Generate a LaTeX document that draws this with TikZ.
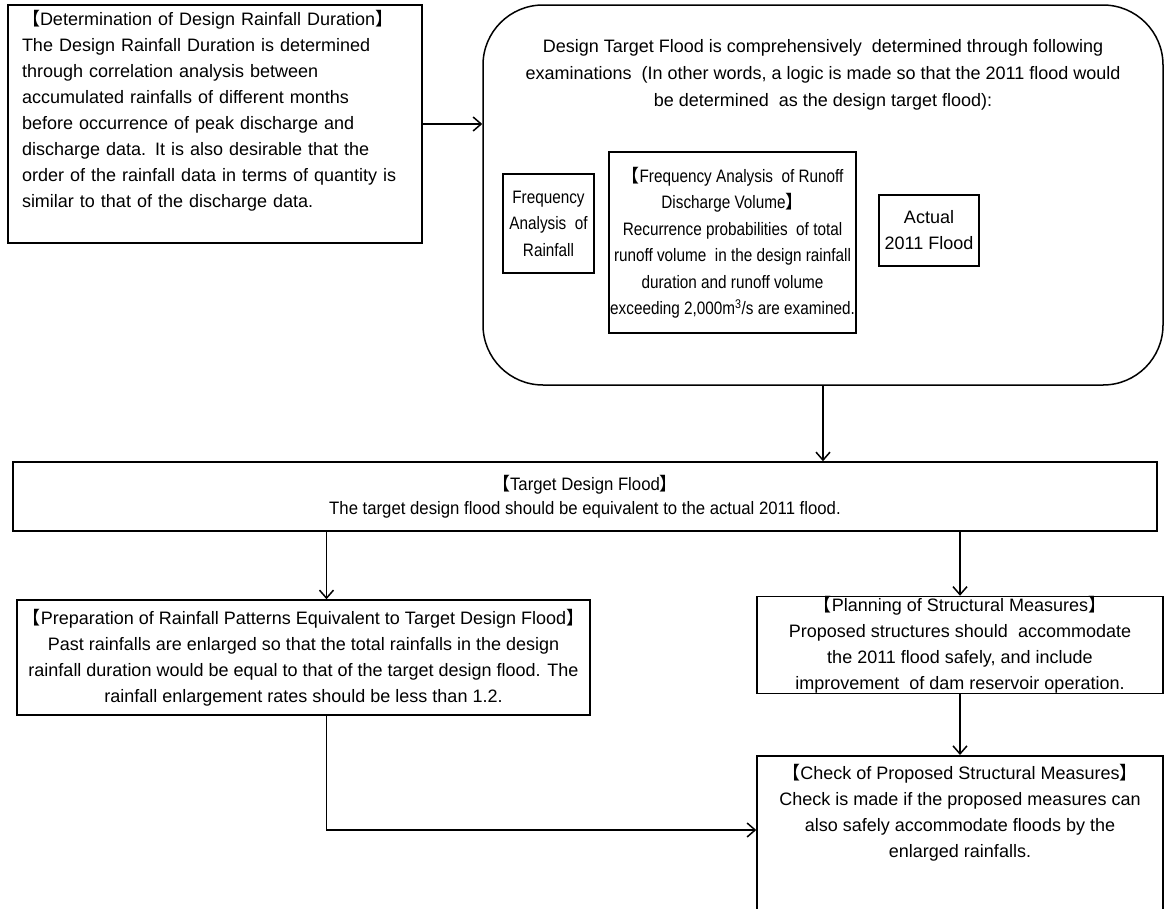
\documentclass[tikz,border=0pt]{standalone}
\usepackage{fontspec}
\setmainfont{Liberation Sans}
\newfontfamily\narrowfont{Liberation Sans}[FakeStretch=0.85]
\newfontfamily\slimfont{Liberation Sans}[FakeStretch=0.93]
\newfontfamily\cjk{Noto Sans CJK JP}
\newcommand{\lbr}{{\cjk 【}}
\newcommand{\rbr}{{\cjk 】}}
\usetikzlibrary{arrows.meta,positioning}

\begin{document}
\begin{tikzpicture}[
    x=1pt, y=-1pt,
    >={Straight Barb[length=8pt,width=14pt,line width=1.5pt]},
    box/.style={rectangle, draw=black, line width=1.5pt, align=center, inner sep=0pt, font=\fontsize{18}{26}\selectfont},
    narrowbox/.style={box, font=\fontsize{18}{26.5}\narrowfont},
    textbox/.style={box, align=left, inner xsep=14pt, text width=386pt},
    roundbox/.style={box, rounded corners=60pt},
    plaintext/.style={align=center, inner sep=0pt, font=\fontsize{18}{27}\selectfont},
    line width=1.5pt, black
    ]
    \useasboundingbox (0,0) rectangle (1165,908);

    %Nodes
    \node[textbox, minimum height=238pt, text depth=212pt] (duration) at (215,124) {\lbr Determination of Design Rainfall Duration\rbr\\
        The Design Rainfall Duration is determined\\
        through correlation analysis between\\
        accumulated rainfalls of different months\\
        before occurrence of peak discharge and\\
        discharge data. It is also desirable that the\\
        order of the rainfall data in terms of quantity is\\
        similar to that of the discharge data.};
    \node[roundbox, minimum width=680pt, minimum height=380pt] (designflood) at (823,195) {};
    \node[plaintext] (intro) at (823,75) {Design Target Flood is comprehensively \ determined through following\\
        examinations \ (In other words, a logic is made so that the 2011 flood would\\
        be determined \ as the design target flood):};
    \node[narrowbox, minimum width=91pt,  minimum height=99pt]  (rainfreq)   at (548.5,223.5) {Frequency\\Analysis \ of\\Rainfall};
    \node[narrowbox, minimum width=247pt, minimum height=181pt] (runofffreq) at (732.5,242.5) {\lbr Frequency Analysis \ of Runoff\\
        Discharge Volume\rbr\\
        Recurrence probabilities \ of total\\
        runoff volume \ in the design rainfall\\
        duration and runoff volume\\
        exceeding 2,000m\textsuperscript{3}/s are examined.};
    \node[box, minimum width=100pt, minimum height=71pt]  (actual)     at (929,230.5)   {Actual\\2011 Flood};
    \node[box, minimum width=1144pt, minimum height=69pt, font=\fontsize{18}{24}\slimfont] (target) at (585,496.5) {\lbr Target Design Flood\rbr\\
        The target design flood should be equivalent to the actual 2011 flood.};
    \node[box, minimum width=573pt, minimum height=115pt] (prep)       at (303.5,657.5) {\lbr Preparation of Rainfall Patterns Equivalent to Target Design Flood\rbr\\
        Past rainfalls are enlarged so that the total rainfalls in the design\\
        rainfall duration would be equal to that of the target design flood. The\\
        rainfall enlargement rates should be less than 1.2.};
    \node[box, minimum width=406pt, minimum height=90pt]  (planning)   at (960,645)     {\lbr Planning of Structural Measures\rbr\\
        Proposed structures should \ accommodate\\
        the 2011 flood safely, and include\\
        improvement \ of dam reservoir operation.};
    \node[box, minimum width=406pt, inner ysep=9pt, text depth=140pt, anchor=north] (check) at (960,755) {\lbr Check of Proposed Structural Measures\rbr\\
        Check is made if the proposed measures can\\
        also safely accommodate floods by the\\
        enlarged rainfalls.};
    \coordinate (prepdrop) at ([xshift=23pt]prep.north);
    \coordinate (checkin)  at ([yshift=-75pt]check.north west);

    %Lines
    \draw[->] (duration.east)                  -- (duration.east -| designflood.west);
    \draw[->] (designflood.south)              -- (designflood.south |- target.north);
    \draw[->] (prepdrop |- target.south)       -- (prepdrop);
    \draw[->] (planning.north |- target.south) -- (planning.north);
    \draw[->] (planning.south)                 -- (check.north);
    \draw[->] (prepdrop |- prep.south)         |- (checkin);
\end{tikzpicture}
\end{document}
